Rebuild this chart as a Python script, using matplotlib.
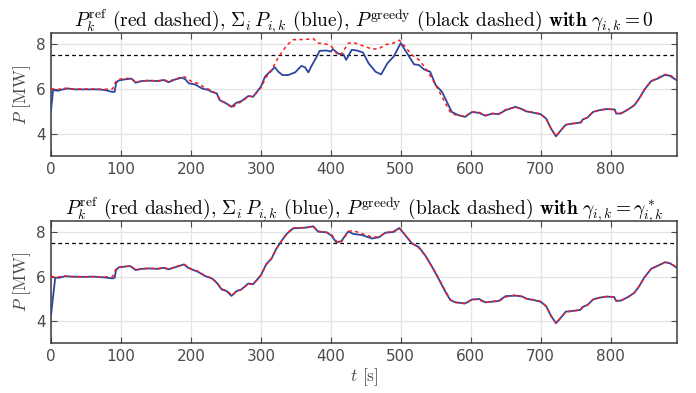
import matplotlib
matplotlib.use('Agg')
import matplotlib.pyplot as plt

# reference power P_k^ref (red dashed), same in both panels
ref_t = [0, 5, 10, 20, 30, 45, 60, 75, 88, 92, 96, 105, 115, 121, 130, 140, 153, 161, 168, 178,
         190, 196, 202, 210, 220, 230, 237, 244, 252, 259, 266, 273, 282, 289, 300, 308, 315, 322,
         330, 337, 346, 363, 375, 382, 394, 401, 408, 414, 418, 425, 432, 444, 459, 469, 478, 490,
         498, 506, 516, 526, 535, 545, 554, 564, 571, 578, 592, 602, 611, 621, 631, 640, 650, 664,
         674, 680, 689, 700, 708, 715, 722, 729, 736, 746, 757, 760, 767, 775, 784, 794, 805, 808,
         815, 825, 834, 841, 848, 858, 868, 878, 885, 895]
ref_p = [6.0, 6.0, 5.98, 6.03, 6.0, 5.99, 6.0, 5.98, 6.0, 6.3, 6.42, 6.47, 6.47, 6.3, 6.36, 6.38,
         6.36, 6.42, 6.33, 6.45, 6.55, 6.45, 6.3, 6.25, 6.05, 5.93, 5.75, 5.45, 5.35, 5.15, 5.35,
         5.42, 5.68, 5.65, 6.05, 6.55, 6.8, 7.25, 7.63, 7.95, 8.2, 8.21, 8.25, 8.05, 8.0, 7.9, 7.6,
         7.52, 7.7, 8.04, 8.08, 7.95, 7.78, 7.8, 7.98, 8.05, 8.18, 7.9, 7.52, 7.3, 6.95, 6.45, 5.95,
         5.35, 4.95, 4.84, 4.78, 4.97, 4.97, 4.82, 4.9, 4.88, 5.08, 5.18, 5.1, 5.0, 4.96, 4.88, 4.67,
         4.22, 3.9, 4.15, 4.4, 4.45, 4.5, 4.63, 4.72, 4.97, 5.05, 5.1, 5.08, 4.92, 4.92, 5.08, 5.27,
         5.57, 5.95, 6.35, 6.5, 6.65, 6.62, 6.4]

# sum_i P_ik with gamma = 0 (top, blue)
sum0_t = [0, 3, 10, 17, 24, 34, 48, 67, 77, 87, 91, 93, 96, 106, 115, 121, 130, 139, 154, 161,
          168, 178, 187, 192, 197, 206, 216, 225, 230, 237, 241, 249, 258, 265, 272, 282, 289, 300,
          306, 313, 320, 325, 331, 339, 349, 358, 363, 368, 372, 380, 384, 394, 400, 403, 411, 418,
          422, 430, 437, 446, 454, 464, 472, 481, 490, 500, 509, 519, 526, 533, 542, 550, 559, 566,
          573, 583, 592, 602, 612, 621, 631, 640, 650, 664, 673, 679, 689, 700, 708, 715, 722, 729,
          736, 746, 758, 760, 767, 775, 784, 794, 806, 808, 815, 825, 834, 841, 848, 858, 868, 877,
          884, 894]
sum0_p = [5.05, 5.95, 5.92, 5.98, 6.02, 5.98, 5.98, 5.98, 5.95, 5.87, 5.87, 6.25, 6.37, 6.43, 6.46,
          6.28, 6.35, 6.37, 6.35, 6.4, 6.3, 6.43, 6.5, 6.43, 6.25, 6.2, 6.02, 5.95, 5.87, 5.8, 5.5,
          5.38, 5.2, 5.38, 5.45, 5.68, 5.65, 6.1, 6.55, 6.77, 6.97, 6.77, 6.62, 6.62, 6.74, 7.03,
          6.97, 6.74, 7.0, 7.45, 7.7, 7.72, 7.67, 7.78, 7.57, 7.55, 7.3, 7.75, 7.72, 7.63, 7.15,
          6.77, 6.65, 7.15, 7.45, 8.05, 7.6, 7.1, 7.07, 6.88, 6.77, 6.17, 5.87, 5.42, 4.97, 4.82,
          4.75, 4.97, 4.93, 4.8, 4.9, 4.87, 5.05, 5.2, 5.1, 5.0, 4.94, 4.87, 4.67, 4.22, 3.88, 4.15,
          4.4, 4.45, 4.5, 4.63, 4.72, 4.97, 5.05, 5.1, 5.08, 4.9, 4.9, 5.08, 5.27, 5.57, 5.95, 6.35,
          6.47, 6.62, 6.6, 6.4]

# sum_i P_ik with gamma = gamma* (bottom, blue)
sumopt_t = [0, 6, 12, 20, 30, 45, 60, 75, 88, 91, 93, 97, 105, 113, 121, 130, 140, 153, 161, 168,
            178, 190, 196, 202, 210, 220, 230, 237, 244, 251, 258, 265, 272, 282, 289, 300, 308,
            315, 322, 330, 337, 346, 363, 375, 382, 394, 401, 408, 415, 425, 432, 444, 459, 469,
            478, 490, 498, 507, 516, 526, 535, 545, 554, 564, 571, 578, 592, 602, 612, 621, 631,
            640, 650, 664, 674, 680, 689, 700, 708, 715, 722, 729, 736, 746, 757, 760, 767, 775,
            784, 794, 805, 808, 815, 825, 834, 841, 848, 858, 868, 878, 885, 895]
sumopt_p = [4.27, 5.95, 5.95, 6.02, 6.0, 5.99, 6.0, 5.97, 5.92, 5.95, 6.3, 6.42, 6.45, 6.48, 6.3,
            6.35, 6.37, 6.35, 6.4, 6.33, 6.43, 6.55, 6.4, 6.32, 6.22, 6.03, 5.92, 5.72, 5.42, 5.35,
            5.13, 5.34, 5.42, 5.69, 5.66, 6.06, 6.58, 6.8, 7.25, 7.63, 7.93, 8.18, 8.21, 8.27, 8.03,
            8.0, 7.85, 7.55, 7.6, 8.04, 7.93, 7.88, 7.72, 7.78, 7.98, 8.02, 8.2, 7.85, 7.5, 7.33,
            6.96, 6.43, 5.91, 5.31, 4.94, 4.84, 4.79, 4.97, 4.99, 4.84, 4.87, 4.9, 5.12, 5.14, 5.1,
            5.0, 4.95, 4.87, 4.66, 4.22, 3.9, 4.15, 4.42, 4.45, 4.5, 4.63, 4.72, 4.97, 5.05, 5.1,
            5.08, 4.9, 4.92, 5.08, 5.27, 5.57, 5.95, 6.35, 6.5, 6.65, 6.6, 6.4]

p_greedy = 7.5

# text-size sum sign: \Sigma keeps it small with the index beside it
titles = [r"$P_k^{\mathrm{ref}}$ (red dashed), $\Sigma_i\, P_{i,k}$ (blue), $P^{\mathrm{greedy}}$ "
          r"(black dashed) $\mathbf{with}\ \gamma_{i,k}=\mathbf{0}$",
          r"$P_k^{\mathrm{ref}}$ (red dashed), $\Sigma_i\, P_{i,k}$ (blue), $P^{\mathrm{greedy}}$ "
          r"(black dashed) $\mathbf{with}\ \gamma_{i,k}=\gamma_{i,k}^*$"]

plt.rcParams['mathtext.fontset'] = 'cm'
plt.rcParams['axes.unicode_minus'] = False

tick_col = '#4a4a4a'
blue = '#2c47a0'

fig = plt.figure(figsize=(6.96, 3.93), dpi=100)
ax_top = fig.add_axes([0.0733, 0.603, 0.8994, 0.313])
ax_bot = fig.add_axes([0.0733, 0.127, 0.8994, 0.310])

for ax, st, sp, title in [(ax_top, sum0_t, sum0_p, titles[0]), (ax_bot, sumopt_t, sumopt_p, titles[1])]:
    ax.plot(st, sp, color=blue, lw=1.3, zorder=3)
    ax.plot(ref_t, ref_p, color='#ff1a1a', lw=1.1, ls=(0, (2.2, 2.2)), zorder=4)
    ax.axhline(p_greedy, color='black', lw=0.9, ls=(0, (3, 2.5)), zorder=2)
    ax.set_xlim(0, 895)
    ax.set_ylim(3, 8.5)
    ax.set_xticks(range(0, 900, 100))
    ax.set_yticks([4, 6, 8])
    ax.grid(True, color='#e3e3e3', lw=0.9, zorder=0)
    ax.set_axisbelow(True)
    ax.tick_params(direction='in', top=True, right=True, length=4, width=0.8,
                   colors=tick_col, labelsize=11, pad=4)
    for s in ax.spines.values():
        s.set_color('#3c3c3c')
        s.set_linewidth(1.1)
    ax.set_ylabel(r"$P$ [MW]", fontsize=12.5, family='cmr10', color=tick_col, labelpad=2)
    ax.set_title(title, fontsize=14, family='cmr10', color='black', pad=4)

ax_bot.set_xlabel(r"$t$ [s]", fontsize=12.5, family='cmr10', color=tick_col, labelpad=2)

fig.savefig('out.png', dpi=100)
